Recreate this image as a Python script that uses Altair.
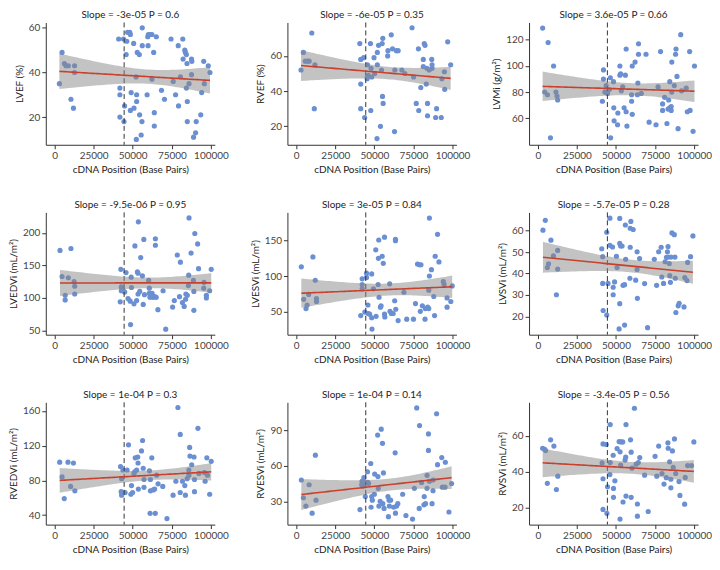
import altair as alt
import numpy as np
import pandas as pd

# ---------------- data ----------------
lvef_x = [3100, 4800, 6300, 7300, 8800, 10500, 12100, 12800, 12800, 41000, 41800, 41800, 41800, 44100, 44400, 44800, 46200, 45800,
          46700, 48100, 48500, 49000, 48500, 50600, 50800, 52100, 52500, 52500, 52900, 54200, 54400, 52300, 55400, 55900, 56100, 56100,
          59200, 59600, 60000, 61300, 62300, 59800, 62300, 63400, 63800, 63800, 65100, 68400, 70300, 74500, 75900, 77400, 79100, 79300,
          80500, 82000, 82200, 83300, 83700, 84300, 84300, 84700, 84900, 84900, 86000, 87600, 87800, 87600, 88900, 90200, 90600, 93500,
          94100, 95400, 95800, 98300, 99400]
lvef_y = [35, 49, 44, 43, 43, 28, 24, 43, 40, 55, 33, 30, 20, 55, 18, 25, 54, 48,
          58, 58, 57, 31, 23, 53, 24, 38, 27, 30, 49, 48, 21, 10, 12, 18, 52, 60,
          30, 56, 57, 57, 57, 52, 37, 49, 22, 16, 56, 32, 28, 55, 36, 30, 52, 25,
          38, 55, 46, 50, 49, 48, 33, 44, 27, 18, 35, 46, 45, 39, 11, 13, 18, 21,
          31, 45, 35, 43, 40]

rvef_x = [3100, 4600, 5800, 7300, 8300, 10000, 12000, 11600, 40700, 41300, 41300, 41300, 43200, 43800, 45600, 45400, 45400, 46100,
          47500, 47700, 47900, 48300, 49800, 50200, 51700, 51900, 51900, 52700, 53900, 54600, 55200, 55000, 55400, 55600, 58500, 58700,
          60800, 61600, 63100, 62900, 64100, 65200, 67600, 69500, 74100, 75100, 76800, 78200, 78400, 79700, 81300, 81300, 81900, 82400,
          83200, 83600, 84000, 84000, 85100, 86700, 86900, 86900, 89200, 89800, 92800, 93200, 94800, 95000, 96900, 98800]
rvef_y = [52, 62, 57, 57, 57, 73, 55, 30, 67, 58, 44, 30, 59, 25, 55, 48, 47, 49,
          67, 29, 53, 48, 59, 50, 13, 62, 55, 66, 20, 52, 37, 67, 70, 33, 60, 63,
          72, 64, 52, 17, 63, 63, 52, 50, 76, 48, 33, 64, 29, 42, 58, 54, 67, 66,
          44, 53, 33, 26, 52, 58, 55, 53, 25, 30, 25, 47, 51, 41, 68, 55]

lvmi_x = [3100, 4400, 6200, 6600, 8100, 10100, 11600, 12300, 12700, 41300, 42000, 42000, 42900, 43700, 44600, 45700, 46400, 46600,
          48400, 48600, 48800, 51000, 51200, 52500, 52500, 53000, 53400, 54300, 55200, 56000, 56500, 56500, 57000, 60000, 60000, 60400,
          60400, 62200, 63700, 64000, 64400, 64400, 66200, 69200, 71200, 75600, 76900, 78500, 79800, 81100, 79800, 82600, 83300, 83700,
          84400, 84400, 85300, 85300, 85700, 85700, 87300, 88100, 88400, 89000, 89700, 91400, 91900, 94900, 95600, 97100, 97400, 99300,
          100200]
lvmi_y = [129, 80, 78, 118, 45, 100, 80, 77, 74, 73, 97, 90, 80, 85, 79, 82, 91, 45,
          88, 68, 58, 55, 64, 100, 93, 94, 81, 84, 68, 93, 113, 65, 54, 73, 78, 63,
          100, 103, 78, 87, 117, 109, 79, 109, 57, 55, 84, 111, 71, 76, 66, 56, 67, 74,
          88, 68, 69, 66, 80, 103, 85, 109, 113, 92, 52, 124, 81, 83, 65, 111, 66, 50,
          100]

lvedvi_x = [3500, 4800, 6800, 6800, 8800, 10500, 12500, 12900, 12900, 42400, 42000, 42700, 42700, 44000, 44900, 45700, 47000, 48400,
            49000, 49200, 48600, 50800, 51400, 52500, 53000, 53400, 53400, 53600, 54500, 55100, 56200, 56700, 57100, 57500, 60200, 60600,
            60600, 61000, 62100, 62400, 63000, 64100, 64500, 64500, 65000, 66100, 69400, 71100, 75500, 76600, 78500, 79900, 80500, 81800,
            82900, 83800, 84000, 84900, 85600, 85800, 86000, 87300, 88800, 89100, 89100, 89700, 91500, 92100, 95400, 95600, 97100, 97100,
            99200, 100200]
lvedvi_y = [173, 133, 104, 97, 131, 176, 125, 118, 106, 144, 94, 117, 111, 111, 109, 139, 99, 95,
            132, 116, 59, 91, 180, 96, 140, 138, 106, 217, 110, 162, 134, 90, 190, 105, 127, 115,
            107, 101, 104, 107, 101, 102, 191, 181, 101, 82, 111, 52, 86, 96, 166, 102, 155, 93,
            87, 98, 106, 104, 119, 135, 223, 169, 127, 110, 81, 199, 183, 145, 115, 124, 104, 100,
            111, 144]

lvesvi_x = [3300, 4800, 6300, 7000, 8000, 10700, 12200, 13000, 13000, 41300, 42200, 42200, 42200, 43900, 45000, 45000, 45900, 46100,
            47000, 48300, 48300, 48500, 49400, 50900, 51100, 52400, 52800, 52600, 53000, 53900, 54300, 55000, 55700, 56500, 56500, 56700,
            59800, 60000, 60900, 62000, 63000, 63500, 63500, 63700, 65200, 68900, 70700, 75000, 76300, 77600, 78900, 79800, 79400, 80700,
            82400, 82600, 84100, 84800, 85200, 85200, 84800, 86500, 88000, 88500, 88900, 90400, 91300, 94100, 94600, 96500, 96500, 98900,
            99800]
lvesvi_y = [113, 67, 54, 59, 74, 127, 94, 68, 64, 44, 96, 88, 82, 49, 98, 104, 59, 47,
            46, 41, 103, 25, 82, 137, 43, 88, 151, 125, 70, 56, 58, 128, 118, 155, 46, 42,
            89, 50, 47, 47, 65, 152, 150, 53, 37, 77, 39, 39, 61, 117, 116, 116, 50, 58,
            39, 54, 56, 54, 182, 100, 80, 109, 71, 44, 128, 159, 120, 92, 88, 69, 56, 64,
            86]

lvsvi_x = [3300, 4800, 6100, 6900, 8400, 10000, 11900, 12700, 12700, 40900, 41500, 41500, 41800, 44100, 44100, 44900, 46100, 46100,
           47800, 48200, 48200, 49100, 50300, 50700, 52000, 52400, 52400, 53000, 53900, 52400, 54500, 55500, 55500, 56000, 56200, 58900,
           59100, 59100, 59500, 61000, 62600, 63500, 63500, 63700, 65100, 68300, 70200, 74500, 76000, 77300, 78900, 79300, 80400, 81400,
           82300, 82900, 83300, 83300, 84100, 84400, 84800, 85200, 85800, 87300, 87700, 87900, 88300, 89800, 90400, 93500, 94000, 95400,
           95800, 97700, 99200]
lvsvi_y = [60.3, 64.9, 42.8, 44.6, 55.6, 48.3, 30.1, 50.8, 42.1, 51.6, 47.9, 35.4, 22.7, 59.3, 20.6, 35.4, 65.9, 53.2,
           52.4, 33.6, 30.1, 36.1, 48.1, 42.8, 14.1, 65.8, 54.1, 52.9, 52.9, 25.9, 34.5, 34.8, 15.9, 62.7, 46.7, 37.8,
           61.2, 52.3, 64.4, 60.6, 36.9, 50.2, 41.9, 28.4, 47.0, 35.3, 14.7, 46.7, 34.5, 50.2, 52.3, 38.4, 35.4, 45.5,
           47.6, 50.2, 52.6, 47.7, 44.7, 39.0, 35.9, 47.7, 59.0, 58.2, 47.7, 37.8, 21.8, 24.9, 26.1, 24.4, 38.1, 36.7,
           45.2, 47.9, 57.6]

rvedvi_x = [3300, 4800, 6200, 8600, 10300, 12100, 13000, 42200, 42600, 42900, 42900, 43700, 45100, 46400, 47300, 48800, 49200, 49900,
            50800, 51200, 51600, 52500, 53200, 53400, 53600, 55600, 56300, 56700, 57200, 57200, 60700, 61100, 61300, 61300, 62200, 63100,
            64000, 64400, 65300, 66200, 69200, 71900, 75800, 77600, 78900, 80400, 80400, 81800, 83300, 83700, 84800, 85900, 85900, 86400,
            86600, 87700, 89200, 89500, 89500, 91700, 92300, 95800, 96300, 97400, 97800, 99200, 100200]
rvedvi_y = [101, 84, 59, 101, 73, 100, 68, 96, 67, 63, 82, 92, 66, 92, 121, 64, 74, 66,
            88, 90, 106, 92, 107, 100, 70, 114, 126, 94, 72, 81, 91, 42, 68, 81, 106, 69,
            70, 42, 86, 76, 73, 36, 63, 79, 164, 66, 133, 79, 74, 63, 82, 86, 92, 118,
            108, 98, 107, 81, 67, 140, 88, 89, 79, 106, 86, 64, 102]

rvesvi_x = [3300, 4600, 6200, 8300, 10200, 12300, 12700, 40800, 41900, 42100, 42500, 43300, 44200, 44600, 45600, 45800, 46300, 47700,
            47900, 48300, 48700, 50000, 50200, 52100, 52300, 52500, 52900, 53700, 54400, 55200, 55400, 55800, 56200, 58700, 59000, 59400,
            59600, 60400, 62300, 63300, 63500, 64200, 65000, 68100, 70200, 74400, 75600, 77100, 78700, 78900, 80200, 81700, 81900, 82700,
            83700, 83700, 84600, 84600, 85200, 86900, 87500, 87500, 89800, 90400, 93100, 93500, 95200, 95400, 97700, 99400]
rvesvi_y = [48, 33, 26, 44, 20, 69, 31, 23, 44, 47, 43, 50, 34, 46, 55, 46, 45, 62,
            25, 34, 31, 36, 53, 86, 51, 41, 26, 30, 91, 79, 28, 54, 24, 34, 17, 31,
            26, 31, 25, 71, 20, 26, 28, 36, 18, 15, 41, 109, 24, 94, 46, 27, 34, 28,
            52, 41, 87, 73, 47, 28, 48, 39, 104, 61, 67, 42, 42, 63, 21, 45]

rvsvi_x = [3100, 4400, 5000, 6100, 8200, 10300, 11900, 12800, 41100, 41700, 41700, 41700, 43800, 44200, 44600, 46100, 46300, 46300,
           48200, 48400, 48400, 49300, 50700, 52000, 52600, 53000, 53200, 54300, 54500, 52600, 55800, 56200, 56400, 56400, 59300, 59700,
           59700, 60200, 61800, 62900, 63700, 63700, 64300, 65200, 68300, 70600, 75000, 76100, 77300, 79400, 80700, 82200, 83200, 83400,
           84300, 85100, 85100, 86100, 86600, 87400, 88200, 90300, 90900, 93900, 94300, 95800, 98300, 99800]
rvsvi_y = [53.0, 52.4, 51.7, 33.4, 57.7, 54.2, 30.0, 37.4, 44.8, 36.0, 18.9, 55.4, 55.1, 16.7, 31.5, 38.3, 66.2, 45.0,
           49.1, 30.6, 25.6, 34.8, 52.8, 56.7, 51.0, 43.6, 56.5, 56.5, 23.0, 13.5, 46.4, 48.0, 66.2, 26.3, 57.7, 50.8,
           25.6, 41.9, 75.3, 44.1, 21.9, 15.1, 45.0, 47.8, 38.0, 17.7, 48.5, 37.4, 54.2, 38.9, 33.0, 36.6, 56.0, 53.0,
           45.4, 35.7, 30.9, 51.5, 42.4, 58.2, 38.9, 34.4, 26.7, 21.8, 36.7, 43.3, 43.3, 56.5]

titles = ["Slope = -3e-05 P = 0.6", "Slope = -6e-05 P = 0.35", "Slope = 3.6e-05 P = 0.66",
          "Slope = -9.5e-06 P = 0.95", "Slope = 3e-05 P = 0.84", "Slope = -5.7e-05 P = 0.28",
          "Slope = 1e-04 P = 0.3", "Slope = 1e-04 P = 0.14", "Slope = -3.4e-05 P = 0.56"]
y_titles = ["LVEF (%)", "RVEF (%)", "LVMi (g/m²)",
            "LVEDVi (mL/m²)", "LVESVi (mL/m²)", "LVSVi (mL/m²)",
            "RVEDVi (mL/m²)", "RVESVi (mL/m²)", "RVSVi (mL/m²)"]
y_domains = [[7.6, 62.4], [9.5, 79], [39.7, 133.3],
             [43.5, 231.5], [17, 190], [11.4, 68.6],
             [29, 170], [10.3, 113.7], [10.4, 78.6]]
y_ticks = [[20, 40, 60], [20, 40, 60], [60, 80, 100, 120],
           [50, 100, 150, 200], [50, 100, 150], [20, 30, 40, 50, 60],
           [40, 80, 120, 160], [30, 60, 90], [20, 40, 60]]
x_ticks = [0, 25000, 50000, 75000, 100000]
x_domain = [-5600, 102500]
dash_x = [44500]
x_title = "cDNA Position (Base Pairs)"

series = [(lvef_x, lvef_y), (rvef_x, rvef_y), (lvmi_x, lvmi_y),
          (lvedvi_x, lvedvi_y), (lvesvi_x, lvesvi_y), (lvsvi_x, lvsvi_y),
          (rvedvi_x, rvedvi_y), (rvesvi_x, rvesvi_y), (rvsvi_x, rvsvi_y)]

BLUE = "#6a8fd3"
RED = "#c9402c"
FONT = "Lato"


def panel(i):
    xs_, ys_ = series[i]
    x = np.array(xs_, float)
    y = np.array(ys_, float)
    n = len(x)
    b, a = np.polyfit(x, y, 1)
    xg = np.linspace(x.min(), x.max(), 60)
    yhat = a + b * xg
    resid = y - (a + b * x)
    s = np.sqrt(np.sum(resid ** 2) / (n - 2))
    sxx = np.sum((x - x.mean()) ** 2)
    se = s * np.sqrt(1.0 / n + (xg - x.mean()) ** 2 / sxx)
    t = 1.994
    fit = pd.DataFrame({"x": xg, "fit": yhat, "lo": yhat - t * se, "hi": yhat + t * se})
    pts_df = pd.DataFrame({"x": x, "y": y})

    xsc = alt.Scale(domain=x_domain, nice=False, zero=False)
    ysc = alt.Scale(domain=y_domains[i], nice=False, zero=False)
    xax = alt.Axis(values=x_ticks, format="d")
    yax = alt.Axis(values=y_ticks[i])

    def X(f):
        return alt.X(f, type="quantitative", scale=xsc, axis=xax, title=x_title)

    def Y(f):
        return alt.Y(f, type="quantitative", scale=ysc, axis=yax, title=y_titles[i])

    pts = alt.Chart(pts_df).mark_circle(size=27, color=BLUE, opacity=1).encode(x=X("x"), y=Y("y"))
    rule = alt.Chart(pd.DataFrame({"x": dash_x})).mark_rule(
        color="#333333", strokeDash=[5, 3], strokeWidth=1).encode(x=X("x"))
    band = alt.Chart(fit).mark_area(color="#888888", opacity=0.5).encode(x=X("x"), y=Y("lo"), y2="hi:Q")
    line = alt.Chart(fit).mark_line(color=RED, strokeWidth=1.6).encode(x=X("x"), y=Y("fit"))
    return alt.layer(pts, rule, band, line).properties(width=170, height=123, title=titles[i])


chart = alt.concat(*[panel(i) for i in range(9)], columns=3, spacing={"row": 25, "column": 21}).properties(
    padding={"left": 0, "top": 0, "right": 0, "bottom": 0}
).configure_view(stroke=None).configure_axis(
    grid=False, domainColor="#333333", tickColor="#333333", labelColor="#444444", titleColor="#222222",
    labelFont=FONT, titleFont=FONT, labelFontSize=10, titleFontSize=10, titleFontWeight="normal",
    tickSize=4, labelPadding=2, titlePadding=4
).configure_title(font=FONT, fontSize=10, fontWeight="normal", color="#222222", offset=2)

chart.save("out.html", embed_options={"renderer": "svg", "actions": False})
